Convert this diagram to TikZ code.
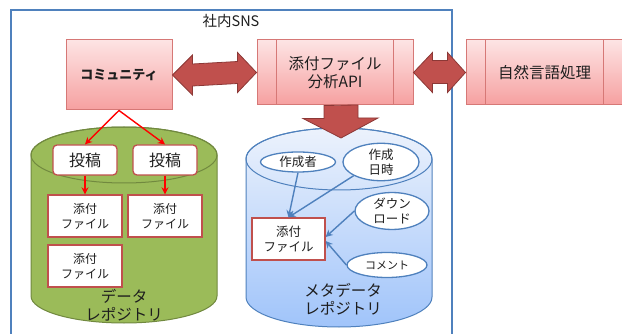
\documentclass[tikz,border=0pt]{standalone}
\usepackage{fontspec}
\setmainfont{Noto Sans CJK JP}
\usetikzlibrary{arrows.meta,calc,shapes.geometric}
\definecolor{frameblue}{RGB}{79,129,189}
\definecolor{pinktop}{RGB}{253,228,228}
\definecolor{pinkbot}{RGB}{246,160,160}
\definecolor{pinkline}{RGB}{214,120,118}
\definecolor{arrowfill}{RGB}{192,80,77}
\definecolor{arrowline}{RGB}{140,56,54}
\definecolor{boxred}{RGB}{192,80,77}
\definecolor{cylgreen}{RGB}{155,187,89}
\definecolor{cylgreenline}{RGB}{113,137,63}
\definecolor{cylbluetop}{RGB}{236,242,252}
\definecolor{cylbluebot}{RGB}{160,196,250}
\definecolor{txt}{RGB}{30,30,30}
\tikzset{
  pinkbox/.style={draw=pinkline, line width=1pt, top color=pinktop, bottom color=pinkbot, inner sep=0pt, align=center, text=txt},
  fat/.style={fill=arrowfill, draw=arrowline, line width=0.8pt},
  postbox/.style={draw=boxred, line width=1.3pt, fill=white, rounded corners=4pt, minimum width=64pt, minimum height=30pt, inner sep=0pt, text=txt, font=\fontsize{16}{18}\selectfont},
  filebox/.style={draw=boxred, line width=1.3pt, fill=white, minimum width=74pt, minimum height=42pt, inner sep=0pt, align=center, text=txt, font=\fontsize{12}{15}\selectfont},
  meta/.style={ellipse, draw=frameblue, line width=1.3pt, fill=white, inner sep=0pt, align=center, text=txt, font=\fontsize{12.5}{15}\selectfont},
  redarr/.style={draw=red, line width=1.4pt, -{Stealth[length=7pt,width=7pt]}},
  bluearr/.style={draw=frameblue, line width=1.4pt, -{Stealth[length=7pt,width=7pt]}},
  cyltext/.style={align=center, text=txt, font=\fontsize{15.5}{17.5}\selectfont}
}
\begin{document}
\begin{tikzpicture}[x=1pt,y=-1pt]
\useasboundingbox (0,0) rectangle (622,334);
\clip (0,0) rectangle (622,334);
\fill[white] (0,0) rectangle (622,334);
% outer frame
\draw[frameblue, line width=1.3pt] (11,345) -- (11,10) -- (452,10) -- (452,345);
\node[text=txt, font=\fontsize{14.5}{16}\selectfont] (sns) at (231,21) {社内SNS};

% data cylinder
\path[fill=cylgreen, draw=cylgreenline, line width=1pt]
  (31,155) -- (31,296) arc[start angle=180, end angle=360, x radius=93pt, y radius=27pt]
  -- (217,155) arc[start angle=0, end angle=180, x radius=93pt, y radius=28pt] -- cycle;
\draw[cylgreenline, line width=1pt] (124,155) ellipse[x radius=93pt, y radius=28pt];

% meta cylinder
\path[top color=cylbluetop, bottom color=cylbluebot, draw=frameblue, line width=1pt]
  (246,159) -- (246,297) arc[start angle=180, end angle=360, x radius=93pt, y radius=30pt]
  -- (432,159) arc[start angle=0, end angle=180, x radius=93pt, y radius=31pt] -- cycle;
\draw[frameblue, line width=1pt] (339,159) ellipse[x radius=93pt, y radius=31pt];

% top boxes
\node[pinkbox, minimum width=106pt, minimum height=70pt, font=\bfseries\fontsize{13}{15}\selectfont] (comm) at (119,75) {コミュニティ};
\node[pinkbox, minimum width=156pt, minimum height=65pt, font=\fontsize{15.5}{18}\selectfont] (api) at (335,72.5) {添付ファイル\\分析API};
\draw[pinkline, line width=1pt] ([xshift=20pt]api.north west) -- ([xshift=20pt]api.south west);
\draw[pinkline, line width=1pt] ([xshift=-20pt]api.north east) -- ([xshift=-20pt]api.south east);
\node[pinkbox, minimum width=157pt, minimum height=65pt, font=\fontsize{15.5}{18}\selectfont] (nlp) at (544.5,72.5) {自然言語処理};
\draw[pinkline, line width=1pt] ([xshift=20pt]nlp.north west) -- ([xshift=20pt]nlp.south west);
\draw[pinkline, line width=1pt] ([xshift=-20pt]nlp.north east) -- ([xshift=-20pt]nlp.south east);

% fat arrows
\draw[fat] (comm.east) -- ++(20,-20) -- ++(0,9) -- ($(api.west)+(-19,-11)$) -- ++(0,-9) -- (api.west)
  -- ++(-19,20) -- ++(0,-9) -- ($(comm.east)+(20,11)$) -- ++(0,9) -- cycle;
\draw[fat] (api.east) -- ++(19,-20) -- ++(0,8) -- ($(nlp.west)+(-18,-12)$) -- ++(0,-8) -- (nlp.west)
  -- ++(-18,20) -- ++(0,-9) -- ($(api.east)+(19,11)$) -- ++(0,9) -- cycle;
\coordinate (tip) at (341,138);
\draw[fat] ($(api.south)+(-11,0)$) -- ++(0,13) -- ++(-21,0) -- (tip) -- ++(37,-20) -- ++(-20,0) -- ++(0,-13) -- cycle;

% data repository content
\node[postbox] (post1) at (85,160) {投稿};
\node[postbox] (post2) at (165,160) {投稿};
\node[filebox] (file1) at (85,216) {添付\\ファイル};
\node[filebox] (file2) at (165,216) {添付\\ファイル};
\node[filebox] (file3) at (85,266) {添付\\ファイル};
\draw[redarr] (comm.south) -- (post1.north);
\draw[redarr] (comm.south) -- (post2.north);
\draw[redarr] (post1.south) -- (file1.north);
\draw[redarr] (post2.south) -- (file2.north);
\node[cyltext] (dlabel) at (124,305) {データ\\レポジトリ};

% meta repository content
\node[meta, minimum width=75pt, minimum height=20pt] (author) at (298,162) {作成者};
\node[meta, minimum width=76pt, minimum height=30pt] (date) at (381,162) {作成\\日時};
\node[meta, minimum width=74pt, minimum height=29pt] (dl) at (392,211) {ダウン\\ロード};
\node[meta, minimum width=80pt, minimum height=25pt, font=\fontsize{11}{13}\selectfont] (cmt) at (387,265) {コメント};
\node[filebox, minimum width=73pt, minimum height=42pt, font=\fontsize{12.5}{15}\selectfont] (mfile) at (288.5,239) {添付\\ファイル};
\draw[bluearr] (author.south) -- (mfile.north);
\draw[bluearr] (date.south west) -- (mfile.north);
\draw[bluearr] (dl.west) -- ([yshift=2pt]mfile.east);
\draw[bluearr] (cmt.west) -- ([yshift=-2pt]mfile.east);
\node[cyltext, font=\fontsize{15.5}{18}\selectfont] (mlabel) at (343,299) {メタデータ\\レポジトリ};
\end{tikzpicture}
\end{document}
